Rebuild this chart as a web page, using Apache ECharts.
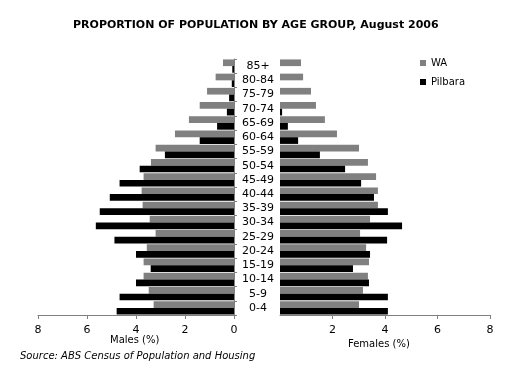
<!DOCTYPE html>
<html>
<head>
<meta charset="utf-8">
<script src="https://cdn.jsdelivr.net/npm/echarts@6/dist/echarts.min.js"></script>
<style>html,body{margin:0;padding:0;background:#fff}#c{width:521px;height:368px}</style>
</head>
<body>
<div id="c"></div>
<script>
var categories = ['0-4','5-9','10-14','15-19','20-24','25-29','30-34','35-39','40-44','45-49','50-54','55-59','60-64','65-69','70-74','75-79','80-84','85+'];
var waMales      = [3.28,3.48,3.69,3.69,3.56,3.20,3.44,3.73,3.77,3.69,3.39,3.20,2.41,1.84,1.40,1.10,0.75,0.45];
var pilbaraMales = [4.79,4.67,4.00,3.40,4.00,4.88,5.64,5.48,5.07,4.67,3.85,2.82,1.40,0.69,0.29,0.20,0.09,0.07];
var waFemales      = [3.01,3.16,3.35,3.39,3.28,3.05,3.43,3.73,3.73,3.66,3.35,3.01,2.17,1.71,1.37,1.18,0.88,0.80];
var pilbaraFemales = [4.11,4.11,3.39,2.78,3.43,4.08,4.65,4.11,3.58,3.09,2.48,1.52,0.69,0.30,0.08,0,0,0];
var xTicks = [0,2,4,6,8];

var FONT = 'DejaVu Sans';
var GREY = '#808080';
var chart = echarts.init(document.getElementById('c'), null, {renderer:'canvas'});
var axisCommon = {
  type:'value', min:xTicks[0], max:xTicks[xTicks.length-1], interval:xTicks[1]-xTicks[0],
  axisLine:{show:true, lineStyle:{color:GREY}},
  axisTick:{show:true, length:4, lineStyle:{color:GREY}},
  splitLine:{show:false},
  axisLabel:{color:'#000', fontFamily:FONT, fontSize:11, margin:10}
};
chart.setOption({
  animation:false,
  title:{text:'PROPORTION OF POPULATION BY AGE GROUP, August 2006', left:68, top:15,
    textStyle:{fontFamily:FONT, fontWeight:'bold', fontSize:11, color:'#000'}},
  legend:{data:['WA','Pilbara'], orient:'vertical', left:415, top:53, itemWidth:6, itemHeight:6, itemGap:9, icon:'rect',
    textStyle:{fontFamily:FONT, fontSize:10, color:'#000'}},
  grid:[
    {left:38, right:287, top:59, bottom:53},
    {left:280, right:31, top:59, bottom:53}
  ],
  xAxis:[
    Object.assign({}, axisCommon, {gridIndex:0, inverse:true}),
    Object.assign({}, axisCommon, {gridIndex:1, axisLabel:Object.assign({}, axisCommon.axisLabel, {showMinLabel:false})})
  ],
  yAxis:[
    {type:'category', gridIndex:0, position:'right', data:categories,
     axisLine:{show:true, lineStyle:{color:GREY}},
     axisTick:{show:true, length:3, interval:0, lineStyle:{color:GREY}},
     axisLabel:{show:true, interval:0, align:'center', margin:24, fontFamily:FONT, fontSize:11, color:'#000'}},
    {type:'category', gridIndex:1, data:categories,
     axisLine:{show:false}, axisTick:{show:false}, axisLabel:{show:false}}
  ],
  series:[
    {name:'WA', type:'bar', xAxisIndex:0, yAxisIndex:0, data:waMales, itemStyle:{color:GREY}, barGap:'0%', barCategoryGap:'6%'},
    {name:'Pilbara', type:'bar', xAxisIndex:0, yAxisIndex:0, data:pilbaraMales, itemStyle:{color:'#000'}, barGap:'0%', barCategoryGap:'6%'},
    {name:'WA', type:'bar', xAxisIndex:1, yAxisIndex:1, data:waFemales, itemStyle:{color:GREY}, barGap:'0%', barCategoryGap:'6%'},
    {name:'Pilbara', type:'bar', xAxisIndex:1, yAxisIndex:1, data:pilbaraFemales, itemStyle:{color:'#000'}, barGap:'0%', barCategoryGap:'6%'}
  ],
  graphic:[
    {type:'text', left:110, top:335, style:{text:'Males (%)', fontFamily:FONT, fontSize:10, fill:'#000'}},
    {type:'text', left:348, top:339, style:{text:'Females (%)', fontFamily:FONT, fontSize:10, fill:'#000'}},
    {type:'text', left:20, top:351, style:{text:'Source: ABS Census of Population and Housing', fontFamily:FONT, fontStyle:'italic', fontSize:10, fill:'#000'}}
  ]
});
</script>
</body>
</html>
